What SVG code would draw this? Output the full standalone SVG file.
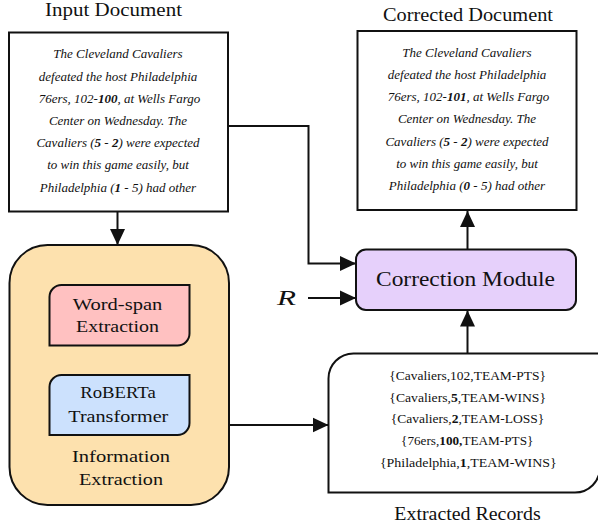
<svg xmlns="http://www.w3.org/2000/svg" width="598" height="527" viewBox="0 0 598 527">
<style>
text{fill:#111;font-family:"Liberation Serif","DejaVu Serif",serif;}
.title{font-size:18px;text-anchor:middle;}
.para{font-size:13px;font-style:italic;text-anchor:middle;}
.lbl{font-size:17px;text-anchor:middle;}
.rec{font-size:13px;text-anchor:middle;}
.box{stroke:#111;stroke-width:2;}
.wire{fill:none;stroke:#111;stroke-width:2;}
.b{font-weight:bold;}
</style>
<defs>
<marker id="ah" viewBox="0 0 16 16" refX="16" refY="8" markerWidth="16" markerHeight="16" markerUnits="userSpaceOnUse" orient="auto">
<path d="M0,0.5 L16,8 L0,15.5 z" fill="#111"/>
</marker>
</defs>

<g id="connectors">
<line class="wire" x1="117.5" y1="212" x2="117.5" y2="245" marker-end="url(#ah)"/>
<polyline class="wire" points="228,126 308.5,126 308.5,263.5 356,263.5" marker-end="url(#ah)"/>
<line class="wire" x1="308" y1="298" x2="356" y2="298" marker-end="url(#ah)"/>
<line class="wire" x1="229" y1="425" x2="328.5" y2="425" marker-end="url(#ah)"/>
<line class="wire" x1="467.5" y1="353" x2="467.5" y2="310.5" marker-end="url(#ah)"/>
<line class="wire" x1="467.5" y1="249.5" x2="467.5" y2="211" marker-end="url(#ah)"/>
</g>

<g id="input-document">
<text class="title" x="113.5" y="16" textLength="137" lengthAdjust="spacingAndGlyphs">Input Document</text>
<rect class="box" x="9" y="32.5" width="219" height="179" fill="#fff"/>
<text class="para" x="118" y="58.3">The Cleveland Cavaliers</text>
<text class="para" x="118" y="80.5">defeated the host Philadelphia</text>
<text class="para" x="119.5" y="102.7">76ers, 102-<tspan class="b">100</tspan>, at Wells Fargo</text>
<text class="para" x="118" y="125">Center on Wednesday. The</text>
<text class="para" x="118" y="147.2">Cavaliers (<tspan class="b">5</tspan> - <tspan class="b">2</tspan>) were expected</text>
<text class="para" x="118" y="169.4">to win this game easily, but</text>
<text class="para" x="118" y="191.6">Philadelphia (<tspan class="b">1</tspan> - 5) had other</text>
</g>

<g id="corrected-document">
<text class="title" x="468" y="20.5" textLength="170" lengthAdjust="spacingAndGlyphs">Corrected Document</text>
<rect class="box" x="357.5" y="31" width="219" height="179" fill="#fff"/>
<text class="para" x="467" y="56.7">The Cleveland Cavaliers</text>
<text class="para" x="467" y="78.9">defeated the host Philadelphia</text>
<text class="para" x="468.5" y="101.1">76ers, 102-<tspan class="b">101</tspan>, at Wells Fargo</text>
<text class="para" x="467" y="123.3">Center on Wednesday. The</text>
<text class="para" x="467" y="145.5">Cavaliers (<tspan class="b">5</tspan> - <tspan class="b">2</tspan>) were expected</text>
<text class="para" x="467" y="167.7">to win this game easily, but</text>
<text class="para" x="467" y="189.9">Philadelphia (<tspan class="b">0</tspan> - 5) had other</text>
</g>

<g id="correction-module">
<rect class="box" x="356" y="249.5" width="220" height="60.5" rx="10" fill="#E6D0FB"/>
<text x="465.5" y="285.5" font-size="21" text-anchor="middle" textLength="179" lengthAdjust="spacingAndGlyphs">Correction Module</text>
</g>

<g id="r-input">
<text x="277" y="305" font-size="22" font-style="italic" textLength="19" lengthAdjust="spacingAndGlyphs">R</text>
</g>

<g id="information-extraction">
<rect class="box" x="9.5" y="245" width="219.5" height="260" rx="38" fill="#FDE1AE"/>
<text class="lbl" x="121" y="462.3" textLength="98" lengthAdjust="spacingAndGlyphs">Information</text>
<text class="lbl" x="121" y="485" textLength="84" lengthAdjust="spacingAndGlyphs">Extraction</text>
</g>

<g id="word-span-extraction">
<path class="box" d="M61.5,285 H189.5 V333.5 A12,12 0 0 1 177.5,345.5 H49.5 V297 A12,12 0 0 1 61.5,285 Z" fill="#FFC1C1"/>
<text class="lbl" x="117.5" y="310" textLength="89.5" lengthAdjust="spacingAndGlyphs">Word-span</text>
<text class="lbl" x="117.5" y="331.7" textLength="83" lengthAdjust="spacingAndGlyphs">Extraction</text>
</g>

<g id="roberta-transformer">
<path class="box" d="M61.5,375 H189.5 V423 A12,12 0 0 1 177.5,435 H49.5 V387 A12,12 0 0 1 61.5,375 Z" fill="#CCE1FD"/>
<text class="lbl" x="118" y="398.3" textLength="75.5" lengthAdjust="spacingAndGlyphs">RoBERTa</text>
<text class="lbl" x="118.3" y="421.7" textLength="100" lengthAdjust="spacingAndGlyphs">Transformer</text>
</g>

<g id="extracted-records">
<path class="box" d="M353.5,353.5 H600 V467.5 A25,25 0 0 1 575,492.5 H328.5 V378.5 A25,25 0 0 1 353.5,353.5 Z" fill="#fff"/>
<text class="rec" x="467.7" y="380" textLength="156.7" lengthAdjust="spacingAndGlyphs">{Cavaliers,102,TEAM-PTS}</text>
<text class="rec" x="467.7" y="401.7" textLength="156.7" lengthAdjust="spacingAndGlyphs">{Cavaliers,<tspan class="b">5</tspan>,TEAM-WINS}</text>
<text class="rec" x="467.5" y="423.3" textLength="153.7" lengthAdjust="spacingAndGlyphs">{Cavaliers,<tspan class="b">2</tspan>,TEAM-LOSS}</text>
<text class="rec" x="467.2" y="445" textLength="132.3" lengthAdjust="spacingAndGlyphs">{76ers,<tspan class="b">100,</tspan>TEAM-PTS}</text>
<text class="rec" x="468.3" y="466.7" textLength="176.7" lengthAdjust="spacingAndGlyphs">{Philadelphia,<tspan class="b">1</tspan>,TEAM-WINS}</text>
<text class="title" x="467.5" y="520" textLength="146.3" lengthAdjust="spacingAndGlyphs">Extracted Records</text>
</g>
</svg>
